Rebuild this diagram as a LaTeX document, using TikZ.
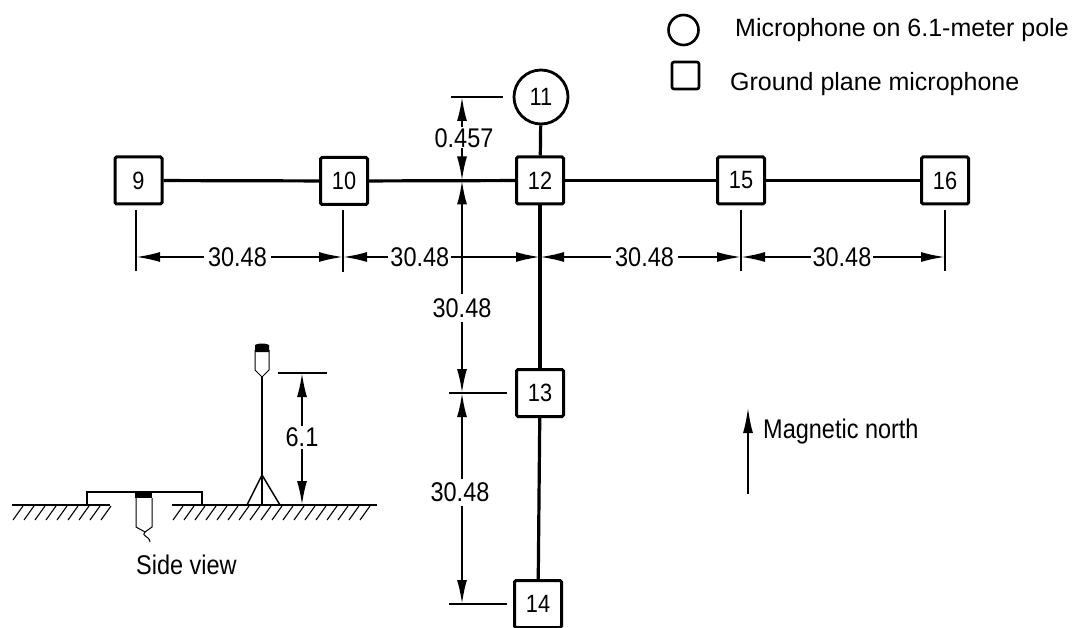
\documentclass[tikz,border=0pt]{standalone}
\usepackage{fontspec}
\setmainfont[FakeStretch=0.87]{Liberation Sans}
\newfontfamily\legendfont{Liberation Sans}
\usetikzlibrary{arrows.meta}
\tikzset{
 x=1pt,y=-1pt,
 sq/.style={draw,line width=3pt,minimum size=47pt,inner sep=0pt,rounded corners=1.5pt,font=\fontsize{25}{27}\selectfont,fill=white},
 circ/.style={draw,circle,line width=2.8pt,minimum size=54pt,inner sep=0pt,font=\fontsize{25}{27}\selectfont,fill=white},
 wire/.style={line width=3.2pt},
 dim/.style={line width=2pt,{Latex[length=24pt,width=10pt]}-{Latex[length=24pt,width=10pt]}},
 oneway/.style={line width=2.4pt,-{Latex[length=26pt,width=10pt]}},
 ext/.style={line width=1.8pt},
 lab/.style={inner sep=4pt,font=\fontsize{27}{29}\selectfont,fill=white},
 txt/.style={inner sep=0pt,anchor=west,font=\fontsize{27}{29}\selectfont},
 legtxt/.style={inner sep=0pt,anchor=west,font=\legendfont\fontsize{25}{27}\selectfont},
 hatch/.style={line width=1.1pt},
 gnd/.style={line width=1.8pt},
 thin part/.style={line width=1pt},
}
\begin{document}
\begin{tikzpicture}
\useasboundingbox (0,0) rectangle (1076,628);
\node[sq] (n9) at (138.5,180.5) {9};
\node[sq] (n10) at (344,181) {10};
\node[sq] (n12) at (540,180.5) {12};
\node[sq] (n15) at (741,180.5) {15};
\node[sq] (n16) at (945,180.5) {16};
\node[sq] (n13) at (540,393) {13};
\node[sq] (n14) at (538,604) {14};
\node[circ] (n11) at (541,97) {11};
\draw[wire] (n11)--(n12);
\draw[wire] (n9)--(n10);
\draw[wire] (n10)--(n12);
\draw[wire] (n12)--(n15);
\draw[wire] (n15)--(n16);
\draw[wire] (n12)--(n13);
\draw[wire] (n13)--(n14);
% horizontal dimension line
\coordinate (d9) at (136,257);
\coordinate (d10) at (343,257);
\coordinate (d12) at (540,257);
\coordinate (d15) at (741,257);
\coordinate (d16) at (945,257);
\coordinate (e9a) at (136,210); \coordinate (e9b) at (136,271);
\coordinate (e10a) at (343,210); \coordinate (e10b) at (343,272);
\coordinate (e15a) at (741,210); \coordinate (e15b) at (741,271);
\coordinate (e16a) at (945,210); \coordinate (e16b) at (945,271);
\draw[ext] (e9a)--(e9b);
\draw[ext] (e10a)--(e10b);
\draw[ext] (e15a)--(e15b);
\draw[ext] (e16a)--(e16b);
\draw[dim] (d9)--node[lab,pos=.49]{30.48}(d10);
\draw[dim] (d10)--node[lab,pos=.39,inner sep=2pt]{30.48}(d12);
\draw[dim] (d12)--node[lab,pos=.52]{30.48}(d15);
\draw[dim] (d15)--node[lab,pos=.495,inner sep=2pt]{30.48}(d16);
% vertical dims
\coordinate (t11) at (462,97);
\coordinate (t11a) at (451,97);
\coordinate (t11e) at (503,97);
\coordinate (v0) at (462,180.5);
\coordinate (v13) at (462,393);
\coordinate (v13a) at (449,393);
\coordinate (v13e) at (507,393);
\coordinate (v14) at (462,604);
\coordinate (v14a) at (449,604);
\coordinate (v14e) at (507,604);
\draw[ext] (t11a)--(t11e);
\draw[ext] (v13a)--(v13e);
\draw[ext] (v14a)--(v14e);
\draw[dim] (t11)--node[lab,inner sep=1pt,pos=.49,xshift=2pt]{0.457}(v0);
\draw[dim] (v0)--node[lab,pos=.6]{30.48}(v13);
\draw[dim] (v13)--node[lab,pos=.47,xshift=-2pt]{30.48}(v14);
% legend
\node[draw,circle,line width=2.6pt,minimum size=30pt,inner sep=0pt] (lc) at (683.5,30) {};
\node[draw,line width=2.6pt,minimum size=27pt,inner sep=0pt,rounded corners=2pt] (ls) at (685.5,75.5) {};
\node[legtxt] (lt1) at (735,30) {Microphone on 6.1-meter pole};
\node[legtxt] (lt2) at (730,84) {Ground plane microphone};
% north
\node[txt] (north) at (763,432) {Magnetic north};
\coordinate (na) at (748,494);
\coordinate (nb) at (748,407);
\draw[oneway] (na)--(nb);
% side view
\draw[gnd] (12,505)--(110,505);
\draw[gnd] (172,505)--(377,505);
\foreach \x in {13,24,...,102}{\draw[hatch] (\x+10,506)--(\x,520);}
\foreach \x in {173,184,...,365}{\draw[hatch] (\x+10,506)--(\x,520);}
\draw[line width=1.8pt] (87,505)--(87,492)--(202,492)--(202,505);
\fill (135,491) rectangle (152,498);
\draw[thin part] (136,498)--(136,527)--(145,532)--(152,527)--(152,498);
\draw[thin part] (145,532) .. controls (141,537) and (149,535) .. (150,542);
\draw[thin part] (255,350)--(255,370)--(262,377)--(269,370)--(269,350);
\fill (255,345) .. controls (257,343) and (267,343) .. (269,345) -- (269,352) -- (255,352) -- cycle;
\draw[line width=1.5pt] (262,377)--(262,505);
\draw[line width=1.5pt] (247,505)--(262,475)--(280,505);
\coordinate (h61) at (302,373);
\coordinate (h61a) at (278,373);
\coordinate (h61b) at (327,373);
\coordinate (g61) at (302,505);
\draw[line width=2pt] (h61a)--(h61b);
\draw[dim] (h61)--node[lab,inner sep=2pt,pos=.49]{6.1}(g61);
\node[txt] (side) at (136,565) {Side view};
\end{tikzpicture}
\end{document}
